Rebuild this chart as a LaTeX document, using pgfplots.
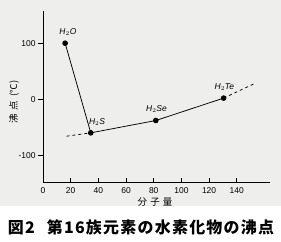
\documentclass[border=0pt]{standalone}
\usepackage{pgfplots}
\pgfplotsset{compat=1.18}
\usepackage{fontspec}
\setmainfont{Liberation Sans}
\newfontfamily\cjk{Noto Sans CJK JP}
\newfontfamily\cjkcap[LetterSpace=8]{Noto Sans CJK JP}
\definecolor{paper}{RGB}{238,238,236}
\begin{document}
\begin{tikzpicture}[x=1bp,y=1bp]
\useasboundingbox (0,0) rectangle (281,242);
\fill[paper] (0,36) rectangle (281,242);
\begin{axis}[
  at={(43bp,59.3bp)}, anchor=south west,
  scale only axis, width=227bp, height=172bp,
  xmin=0, xmax=164, ymin=-149, ymax=158,
  axis x line=bottom, axis y line=left,
  axis line style={-, line width=0.7pt},
  xtick={0,20,40,60,80,100,120,140},
  ytick={-100,0,100},
  tick align=inside,
  major tick length=5bp,
  y tick style={xshift=-5bp},
  tick style={line width=0.6pt, black},
  /pgf/number format/assume math mode=true,
  tick label style={font=\fontsize{8.5}{10}\selectfont},
  x tick label style={yshift=-1bp},
  y tick label style={xshift=-4bp},
  clip=false,
]
\addplot[black, line width=0.75pt, mark=*, mark size=2.4pt] coordinates {
  (16,100) (34.5,-60) (81.5,-38) (130.5,2)
};
\addplot[black, line width=0.75pt, dashed] coordinates {(17,-66) (34.5,-60)};
\addplot[black, line width=0.75pt, dashed] coordinates {(130.5,2) (152,27)};
\node[font=\itshape\fontsize{8.5}{10}\selectfont] at (axis cs:18,120) {H$_2$O};
\node[font=\itshape\fontsize{8.5}{10}\selectfont] at (axis cs:39,-41) {H$_2$S};
\node[font=\itshape\fontsize{8.5}{10}\selectfont] at (axis cs:82,-18) {H$_2$Se};
\node[font=\itshape\fontsize{8.5}{10}\selectfont] at (axis cs:131,22) {H$_2$Te};
\end{axis}
\node[rotate=90, font=\cjk\fontsize{9.5}{11}\selectfont] at (14,140) {沸\,\,点\,\,\,(℃)};
\node[font=\cjk\fontsize{9.5}{11}\selectfont] at (155,40) {分\,\,子\,\,量};
\node[font=\cjkcap\bfseries\fontsize{16}{18}\selectfont] at (141,15) {図2\hspace{12bp}第16族元素の水素化物の沸点};
\end{tikzpicture}
\end{document}
